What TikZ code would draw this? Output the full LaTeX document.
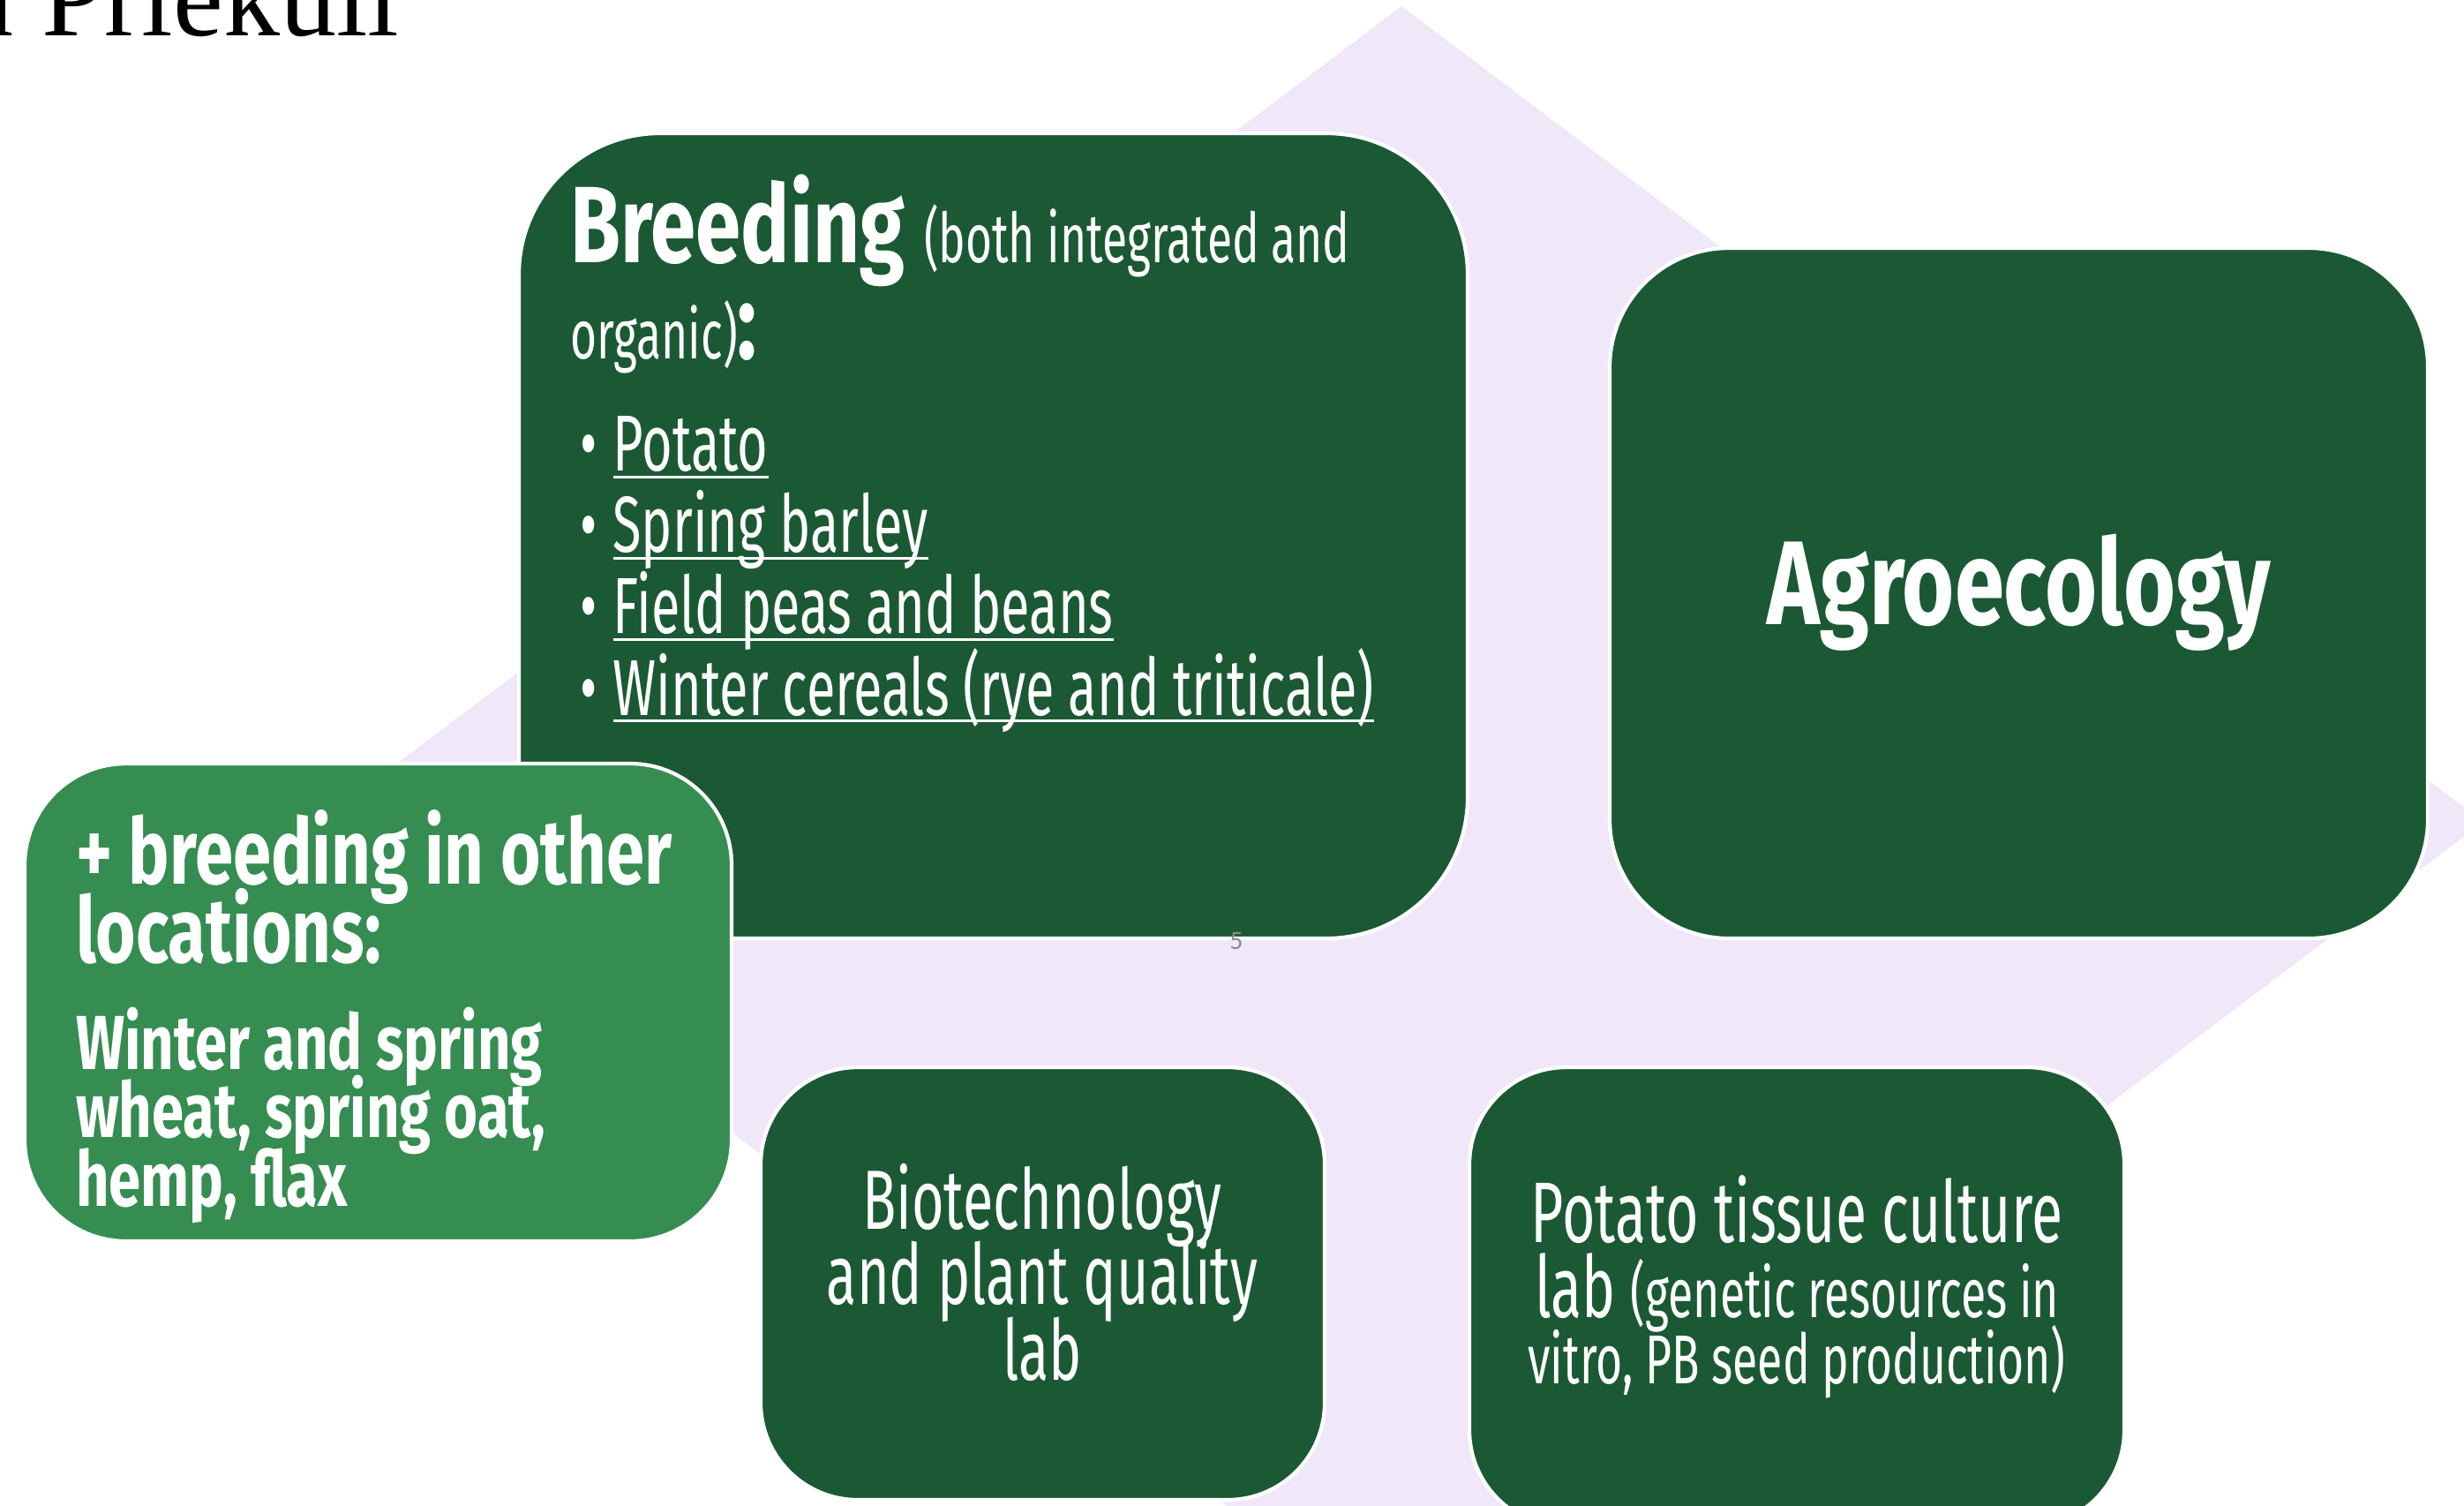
\documentclass[tikz,border=0pt]{standalone}
\usepackage{fontspec}
\setmainfont{Fira Sans}
\newfontfamily\oswald[FakeStretch=0.66]{Fira Sans}
\newfontfamily\oswaldbold[FakeStretch=0.75]{Fira Sans}
\newfontfamily\titleserif{Liberation Serif}
\newfontfamily\slidenum{Carlito}

% underlined crop name, line just under the baseline
\newcommand\ulink[1]{\setbox0=\hbox{#1}\rlap{\rule[-0.09em]{\wd0}{0.035em}}\box0}
\newcommand\crop[1]{\makebox[0.41em][l]{\textbullet}\ulink{#1}}

\begin{document}
\begin{tikzpicture}
	\definecolor{boxgreen}{RGB}{27,89,52}
	\definecolor{leafgreen}{RGB}{53,141,81}
	\definecolor{lilac}{RGB}{240,232,248}
	\tikzset{
		panel/.style={draw=white, line width=1.2pt, fill=#1, rounded corners=1.1cm, inner sep=0pt},
		paneltext/.style={text=white, inner sep=0pt, execute at begin node={\lineskiplimit=-100pt}}
	}
	
	% Fix the page to the slide cut-out
	\clip (0,0) rectangle (27.92,-17.05);
	\useasboundingbox (0,0) rectangle (27.92,-17.05);
	
	% Slide title, cut at the top
	\node[anchor=base east, inner sep=0pt, font=\titleserif\fontsize{36.4}{40}\selectfont] (slidetitle) at (4.53,-0.40) {in Priekuli};
	
	% Draw the lilac diamond behind the boxes
	\fill[lilac] (15.88,-0.07) -- (28.14,-9.31) -- (15.88,-18.55) -- (3.62,-9.31) -- cycle;
	
	% Dark green boxes
	\node[panel=boxgreen, rounded corners=1.6cm, minimum width=10.75cm, minimum height=9.12cm] (breeding) at (11.255,-6.07) {};
	\node[panel=boxgreen, rounded corners=1.35cm, minimum width=9.27cm, minimum height=7.82cm] (agro) at (22.875,-6.72) {};
	\node[panel=boxgreen, minimum width=6.39cm, minimum height=4.9cm] (biotech) at (11.815,-14.54) {};
	\node[panel=boxgreen, minimum width=7.42cm, minimum height=5.21cm] (tissue) at (20.36,-14.695) {};
	
	% Light green box on top
	\node[panel=leafgreen, rounded corners=1.15cm, minimum width=8.01cm, minimum height=5.41cm] (other) at (4.285,-11.355) {};
	
	% Page number
	\node[text=black!45, inner sep=0pt, font=\slidenum\fontsize{8.5}{10}\selectfont] (pagenum) at (14.01,-10.66) {5};
	
	% Breeding text (base anchor sits on the last line)
	\node[paneltext, anchor=base west, font=\oswaldbold\bfseries\fontsize{35}{40}\selectfont] (breedhead) at (6.46,-2.97) {Breeding {\oswald\mdseries\fontsize{22.2}{26}\selectfont (both integrated and}};
	\node[paneltext, anchor=base west, font=\oswald\fontsize{22.2}{26}\selectfont] (breedorg) at (6.46,-4.06) {organic){\oswaldbold\bfseries\fontsize{35}{40}\selectfont :}};
	\node[paneltext, anchor=base west, align=left, font=\oswald\fontsize{25.6}{26.2}\selectfont] (crops) at (6.57,-8.10) {\crop{Potato}\\\crop{Spring barley}\\\crop{Field peas and beans}\\\crop{Winter cereals (rye and triticale)}};
	
	% Agroecology text
	\node[paneltext, anchor=base, font=\oswaldbold\bfseries\fontsize{38.4}{44}\selectfont] (agrotext) at (22.88,-7.07) {Agroecology};
	
	% Other locations text
	\node[paneltext, anchor=base west, align=left, font=\oswaldbold\bfseries\fontsize{29.5}{25.3}\selectfont] (otherhead) at (0.855,-10.90) {+ breeding in other\\locations:};
	\node[paneltext, anchor=base west, align=left, font=\oswaldbold\bfseries\fontsize{24.7}{22}\selectfont] (othercrops) at (0.855,-13.66) {Winter and spring\\wheat, spring oat,\\hemp, flax};
	
	% Lab texts
	\node[paneltext, anchor=base, align=center, font=\oswald\fontsize{27.1}{24.2}\selectfont] (biotext) at (11.81,-15.63) {Biotechnology\\and plant quality\\lab};
	\node[paneltext, anchor=base, font=\oswald\fontsize{27.7}{30}\selectfont] (tissuea) at (20.36,-14.07) {Potato tissue culture};
	\node[paneltext, anchor=base, font=\oswald\fontsize{27.7}{30}\selectfont] (tissueb) at (20.36,-14.92) {lab {\fontsize{22.3}{26}\selectfont (genetic resources in}};
	\node[paneltext, anchor=base, font=\oswald\fontsize{22.3}{26}\selectfont] (tissuec) at (20.36,-15.67) {vitro, PB seed production)};
\end{tikzpicture}
\end{document}
